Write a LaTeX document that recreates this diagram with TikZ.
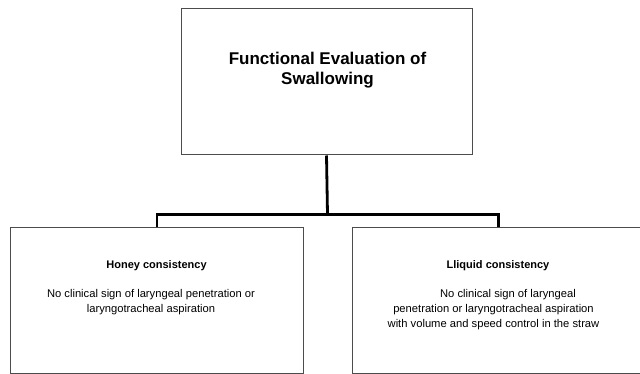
\documentclass[tikz,border=0pt]{standalone}
\usepackage{fontspec}
\setmainfont{Liberation Sans}
\begin{document}
\begin{tikzpicture}[x=1pt,y=-1pt,
  box/.style={draw=black!70,line width=1pt,rectangle,inner sep=0pt},
  conn/.style={line width=2.8pt,black},
  title/.style={font=\fontsize{17}{21}\selectfont\bfseries,anchor=base,inner sep=0pt},
  head/.style={font=\fontsize{11}{13}\selectfont\bfseries,anchor=base,inner sep=0pt},
  body/.style={font=\fontsize{11.2}{14}\selectfont,anchor=base,inner sep=0pt}]
\useasboundingbox[fill=white] (0,0) rectangle (640,374);
% boxes
\node[box,minimum width=291pt,minimum height=146pt] (top) at (326.5,82) {};
\node[box,minimum width=293pt,minimum height=145pt] (left) at (156.5,300.5) {};
\node[box,minimum width=293pt,minimum height=145pt] (right) at (498.5,300.5) {};
% texts
\node[title] (t1) at (327.5,64.3) {Functional Evaluation of};
\node[title] (t2) at (327.5,85) {Swallowing};
\node[head] (h1) at (156.5,269) {Honey consistency};
\node[body] (b11) at (151,298) {No clinical sign of laryngeal penetration or};
\node[body] (b12) at (151,312) {laryngotracheal aspiration};
\node[head] (h2) at (498,269) {Lliquid consistency};
\node[body] (b21) at (508,298) {No clinical sign of laryngeal};
\node[body] (b22) at (493.5,312.5) {penetration or laryngotracheal aspiration};
\node[body] (b23) at (493.5,327) {with volume and speed control in the straw};
% connectors
\coordinate (j) at (327.5,214.5);
\draw[conn] (top.south) -- (j);
\draw[conn] (left.north -| 157,0) |- (j) -| (right.north);
\end{tikzpicture}
\end{document}
